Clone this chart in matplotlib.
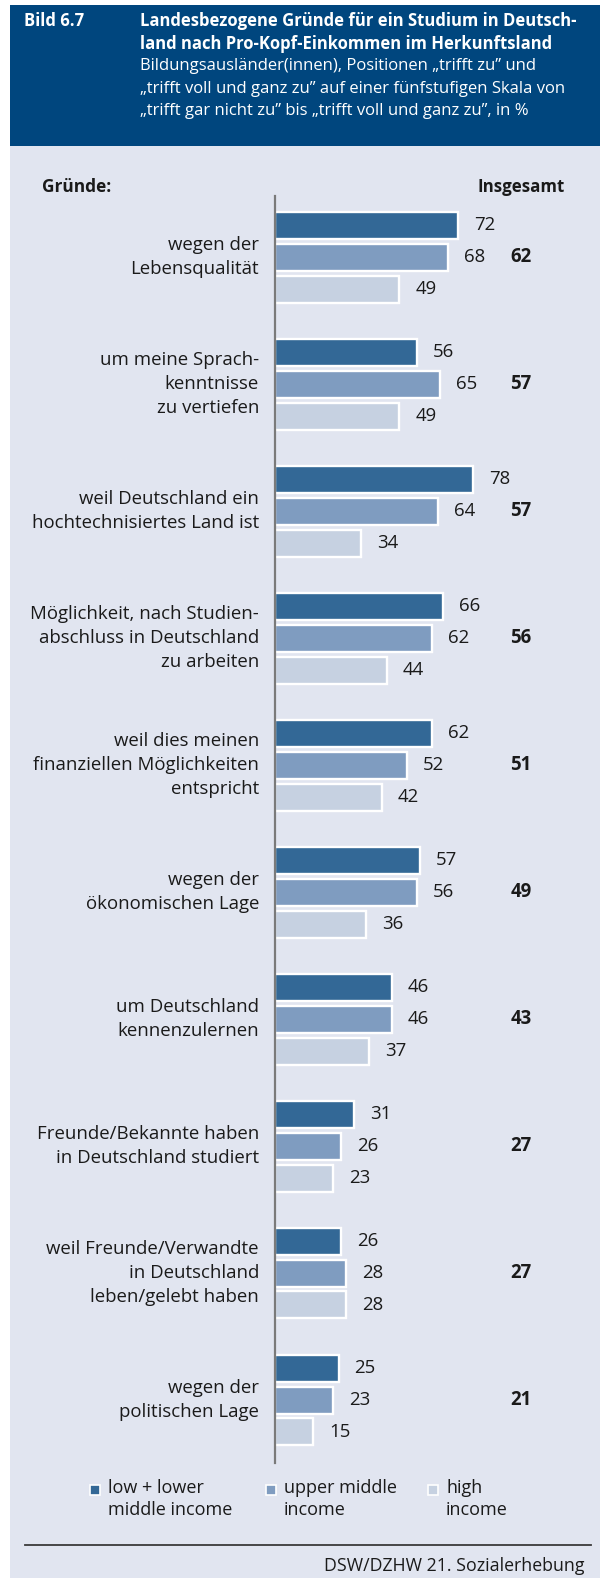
import matplotlib.pyplot as plt
from matplotlib.patches import Rectangle
from matplotlib.lines import Line2D
from matplotlib.transforms import blended_transform_factory

plt.rcParams['font.family'] = ['Open Sans', 'DejaVu Sans']

categories = [
    "wegen der\nLebensqualität",
    "um meine Sprach-\nkenntnisse\nzu vertiefen",
    "weil Deutschland ein\nhochtechnisiertes Land ist",
    "Möglichkeit, nach Studien-\nabschluss in Deutschland\nzu arbeiten",
    "weil dies meinen\nfinanziellen Möglichkeiten\nentspricht",
    "wegen der\nökonomischen Lage",
    "um Deutschland\nkennenzulernen",
    "Freunde/Bekannte haben\nin Deutschland studiert",
    "weil Freunde/Verwandte\nin Deutschland\nleben/gelebt haben",
    "wegen der\npolitischen Lage",
]
low_lower_middle = [72, 56, 78, 66, 62, 57, 46, 31, 26, 25]
upper_middle = [68, 65, 64, 62, 52, 56, 46, 26, 28, 23]
high = [49, 49, 34, 44, 42, 36, 37, 23, 28, 15]
total = [62, 57, 57, 56, 51, 49, 43, 27, 27, 21]

series_names = ["low + lower\nmiddle income", "upper middle\nincome", "high\nincome"]
colors = ["#336896", "#7f9cc0", "#c6d1e1"]

W, H = 600, 1578
fig = plt.figure(figsize=(W / 100, H / 100), dpi=100)

def fx(px):
    return px / W

def fy(py):
    return 1 - py / H

# background panel and header band
fig.patches.append(Rectangle((fx(10), 0), fx(590), fy(146), transform=fig.transFigure,
                             facecolor="#e1e5f0", edgecolor="none", zorder=-2))
fig.patches.append(Rectangle((fx(10), fy(146)), fx(590), (146 - 5) / H, transform=fig.transFigure,
                             facecolor="#00467e", edgecolor="none", zorder=-2))

head_size = 12
fig.text(fx(24), fy(21), "Bild 6.7", color="white", fontsize=head_size, fontweight="bold", va="center")
title_lines = [
    ("Landesbezogene Gründe für ein Studium in Deutsch-", "bold"),
    ("land nach Pro-Kopf-Einkommen im Herkunftsland", "bold"),
    ("Bildungsausländer(innen), Positionen „trifft zu” und", "normal"),
    ("„trifft voll und ganz zu” auf einer fünfstufigen Skala von", "normal"),
    ("„trifft gar nicht zu” bis „trifft voll und ganz zu”, in %", "normal"),
]
for i, (line, weight) in enumerate(title_lines):
    fig.text(fx(140), fy(21 + i * 22.6), line, color="white", fontsize=head_size,
             fontweight=weight, va="center")

body_size = 13.4

# bar area: axis line at x=275 px, 2.54 px per percent point
top_px, bottom_px = 196, 1463
ax = fig.add_axes([fx(275), fy(bottom_px), fx(W - 275), (bottom_px - top_px) / H])
ax.set_facecolor("none")
xmax = (W - 275) / 2.54
ax.set_xlim(0, xmax)
group_px = 127
ax.set_ylim(len(categories) - 1 + (bottom_px - 1400) / group_px, -(257 - top_px) / group_px)

offset = 32 / group_px
bar_h = 27 / group_px
series = [low_lower_middle, upper_middle, high]
for k, (vals, col) in enumerate(zip(series, colors)):
    ys = [i + (k - 1) * offset for i in range(len(categories))]
    ax.barh(ys, vals, height=bar_h, color=col, edgecolor="white", linewidth=1.7, zorder=2)
    for y, v in zip(ys, vals):
        ax.text(v + 16 / 2.54, y, str(v), fontsize=body_size, va="center", ha="left",
                color="#1a1a1a")

for i, t in enumerate(total):
    ax.text((521 - 275) / 2.54, i, str(t), fontsize=body_size, fontweight="bold",
            va="center", ha="center", color="#1a1a1a")

trans = blended_transform_factory(fig.transFigure, ax.transData)
for i, c in enumerate(categories):
    ax.text(fx(259), i, c, transform=trans, fontsize=body_size, ha="right", va="center",
            multialignment="right", linespacing=1.4, color="#1a1a1a")

for s in ["top", "right", "bottom"]:
    ax.spines[s].set_visible(False)
ax.spines["left"].set_color("#7a7a7a")
ax.spines["left"].set_linewidth(1.6)
ax.set_xticks([])
ax.set_yticks([])

fig.text(fx(42), fy(187), "Gründe:", fontsize=12.4, fontweight="bold", va="center", color="#1a1a1a")
fig.text(fx(521), fy(187), "Insgesamt", fontsize=12.2, fontweight="bold", va="center",
         ha="center", color="#1a1a1a")

# legend
for name, col, x0 in zip(series_names, colors, [94, 270, 432]):
    fig.patches.append(Rectangle((fx(x0 - 4), fy(1490 + 5)), fx(10), 10 / H, transform=fig.transFigure,
                                 facecolor=col, edgecolor="white", linewidth=1.2))
    fig.text(fx(x0 + 14), fy(1499), name, fontsize=13, va="center", ha="left",
             linespacing=1.25, color="#1a1a1a")

fig.lines.append(Line2D([fx(25), fx(591)], [fy(1545), fy(1545)], transform=fig.transFigure,
                        color="#3a3a3a", linewidth=1.3))
fig.text(fx(584), fy(1566), "DSW/DZHW 21. Sozialerhebung", fontsize=12.8, ha="right",
         va="center", color="#1a1a1a")

fig.savefig("out.png", dpi=100)
